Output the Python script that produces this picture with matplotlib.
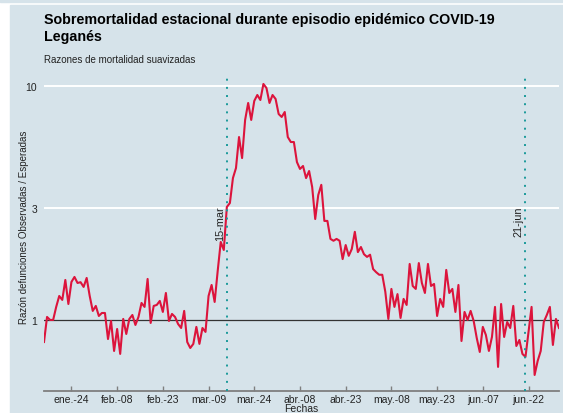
import numpy as np
import matplotlib
matplotlib.use('Agg')
import matplotlib.pyplot as plt
from matplotlib.patches import Rectangle
from matplotlib.ticker import FixedLocator, NullLocator
from matplotlib.transforms import offset_copy

plt.rcParams['font.family'] = ['Liberation Sans', 'DejaVu Sans']

# daily smoothed ratio observed / expected deaths, from 15 Jan 2020
start_date = np.datetime64('2020-01-15')
ratio = [
    0.805, 1.03, 1.00, 1.00, 1.137, 1.266, 1.218, 1.482, 1.17, 1.453,
    1.527, 1.439, 1.45, 1.384, 1.512, 1.266, 1.093, 1.148, 1.04, 1.071,
    1.071, 0.829, 0.99, 0.737, 0.915, 0.716, 1.01, 0.871, 1.01, 1.05,
    0.952, 1.03, 1.182, 1.137, 1.497, 0.971, 1.148, 1.159, 1.206, 1.082,
    1.304, 0.99, 1.061, 1.03, 0.961, 0.924, 1.093, 0.805, 0.759, 0.79,
    0.934, 0.79, 0.924, 0.889, 1.266, 1.411, 1.194, 1.62, 2.154, 1.991,
    3.04, 3.16, 4.04, 4.46, 6.05, 4.92, 7.16, 8.46, 7.16, 8.63,
    9.15, 8.71, 10.2, 9.8, 8.46, 9.15, 8.8, 7.59, 7.37, 7.74,
    6.05, 5.76, 5.76, 4.73, 4.42, 4.55, 4.04, 4.33, 3.70, 2.70,
    3.42, 3.78, 2.65, 2.65, 2.22, 2.18, 2.22, 2.18, 1.82, 2.09,
    1.88, 2.01, 2.38, 1.95, 2.05, 1.91, 1.86, 1.90, 1.65, 1.60,
    1.56, 1.56, 1.32, 1.01, 1.357, 1.137, 1.29, 1.02, 1.23, 1.159,
    1.735, 1.397, 1.357, 1.75, 1.439, 1.304, 1.735, 1.397, 1.425, 1.04,
    1.23, 1.137, 1.636, 1.304, 1.357, 1.082, 1.411, 0.813, 1.082, 1.00,
    1.093, 0.99, 0.838, 0.730, 0.934, 0.863, 0.737, 0.846, 1.137, 0.63,
    1.17, 0.846, 0.98, 0.924, 1.148, 0.774, 0.821, 0.716, 0.695, 0.889,
    1.137, 0.582, 0.668, 0.737, 0.98, 1.05, 1.137, 0.782, 1.01, 0.924,
]
dates = start_date + np.arange(len(ratio))

tick_dates = np.datetime64('2020-01-24') + np.arange(11) * 15
tick_labels = ['ene.-24', 'feb.-08', 'feb.-23', 'mar.-09', 'mar.-24', 'abr.-08',
               'abr.-23', 'may.-08', 'may.-23', 'jun.-07', 'jun.-22']

event_dates = [np.datetime64('2020-03-15'), np.datetime64('2020-06-21')]
event_labels = ['15-mar', '21-jun']

y_ticks = [1, 3, 10]
y_labels = ['1', '3', '10']

bg = '#d6e3ea'
W, H = 563, 414

fig = plt.figure(figsize=(W / 100, H / 100), dpi=100, facecolor='white')
fig.patches.append(Rectangle((10 / W, 0), 1, 408 / H, transform=fig.transFigure,
                             color=bg, zorder=-10))
fig.patches.append(Rectangle((0, 411 / H), 1, 3 / H, transform=fig.transFigure,
                             color=bg, zorder=-10))

ax = fig.add_axes([44 / W, 22 / H, 515 / W, 317 / H])
ax.set_facecolor(bg)
ax.set_yscale('log')
ax.set_ylim(0.497, 11.25)
ax.set_xlim(dates[0], dates[-1])

# reference lines
ax.axhline(10, color='white', lw=1.4, zorder=1)
ax.axhline(3, color='white', lw=1.4, zorder=1)
ax.axhline(1, color='#333333', lw=0.9, zorder=2)

ax.plot(dates, ratio, color='#dc143c', lw=1.5, zorder=3)

# event markers
for d, lab in zip(event_dates, event_labels):
    ax.axvline(d, color='#1a9a9a', lw=1.4, linestyle=(0, (1, 3.2)), zorder=4)
    tr = offset_copy(ax.transData, fig=fig, x=-1.2, y=0, units='points')
    ax.text(d, 3.08, lab, rotation=90, ha='right', va='top', fontsize=7.8,
            color='#222222', transform=tr, zorder=5)

ax.yaxis.set_major_locator(FixedLocator(y_ticks))
ax.yaxis.set_minor_locator(NullLocator())
ax.set_yticklabels(y_labels)
ax.set_xticks(tick_dates)
ax.set_xticklabels(tick_labels)

ax.tick_params(axis='y', length=0, pad=5, labelsize=7.5, labelcolor='#222222')
ax.tick_params(axis='x', direction='in', length=3.5, width=1, color='#7f7f7f',
               pad=2, labelsize=7.5, labelcolor='#222222')

for s in ['top', 'right', 'left']:
    ax.spines[s].set_visible(False)
ax.spines['bottom'].set_color('#7f7f7f')
ax.spines['bottom'].set_linewidth(1.3)

ax.set_xlabel('Fechas', fontsize=7.5, color='#222222', labelpad=-0.5)
ax.set_ylabel('Razón defunciones Observadas / Esperadas', fontsize=7,
              color='#222222')
ax.yaxis.set_label_coords(-15 / 515, 0.52)

fig.text(44 / W, 1 - 13 / H,
         'Sobremortalidad estacional durante episodio epidémico COVID-19\nLeganés',
         ha='left', va='top', fontsize=10.3, fontweight='bold', color='black',
         linespacing=1.3)
fig.text(44 / W, 1 - 55 / H, 'Razones de mortalidad suavizadas',
         ha='left', va='top', fontsize=7, color='#222222')

fig.savefig('out.png', dpi=100, facecolor=fig.get_facecolor())
